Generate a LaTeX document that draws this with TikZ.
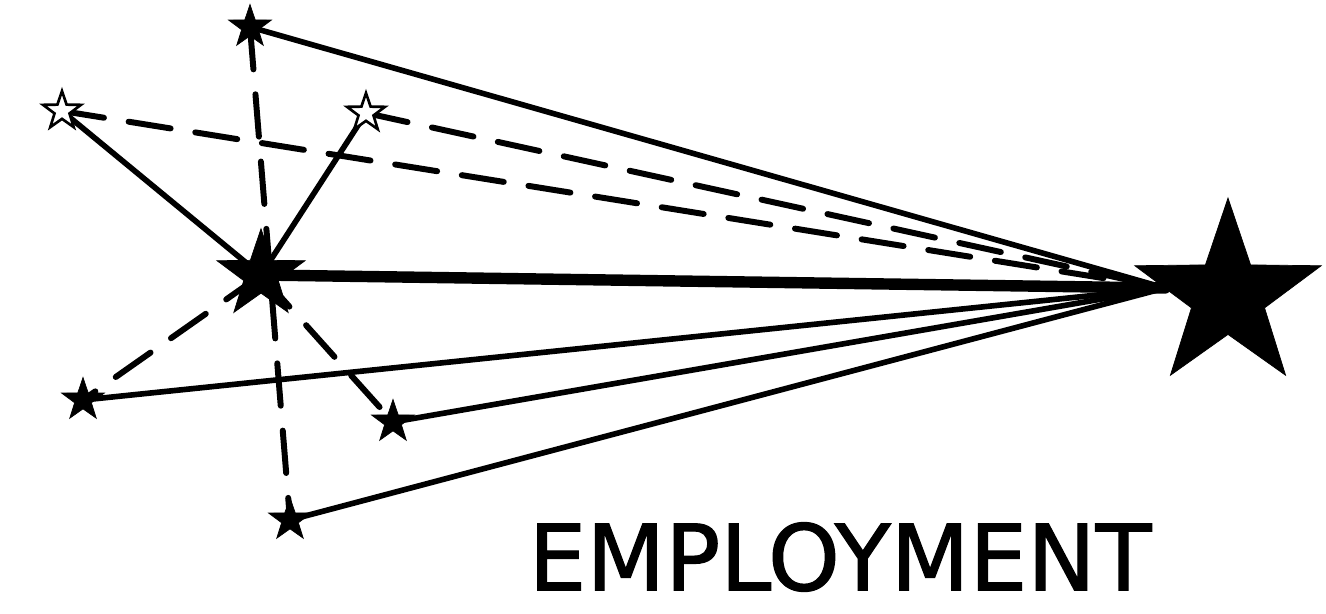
\documentclass[tikz,border=0pt]{standalone}
\usepackage{fontspec}
\setmainfont{DejaVu Sans}
\newfontfamily\titlefont[FakeBold=1.3]{DejaVu Sans}
\usetikzlibrary{shapes.geometric}
\pgfdeclarelayer{bg}
\pgfsetlayers{bg,main}
\begin{document}
\begin{tikzpicture}[x=0.02cm,y=-0.02cm,
 starbase/.style={star,star points=5,star point ratio=2.55,inner sep=0pt,draw=black,fill=black,line join=miter},
 bigstar/.style={starbase,minimum size=3.92cm},
 midstar/.style={starbase,minimum size=1.85cm},
 smallstar/.style={starbase,minimum size=0.9cm},
 hollowstar/.style={starbase,fill=white,line width=1.5pt,minimum size=0.8cm},
 solidlink/.style={line width=3.2pt,line cap=round},
 dashlink/.style={line width=3.4pt,line cap=round,dash pattern=on 0.85cm off 0.5cm},
 thicklink/.style={line width=6.5pt,line cap=round},
 titletext/.style={font=\titlefont\fontsize{52}{56}\selectfont,inner sep=0pt,xscale=1.0}]
\useasboundingbox (0,0) rectangle (1326,613);
\node[bigstar] (big) at (1228,296) {};
\coordinate (hub) at (1165,288);
\node[midstar] (ctr) at (261,275) {};
\node[smallstar] (top) at (250,27) {};
\node[hollowstar] (hl) at (62,111) {};
\node[hollowstar] (hr) at (366,113) {};
\node[smallstar] (bl) at (83,400) {};
\node[smallstar] (bm) at (393,422) {};
\node[smallstar] (bb) at (290,520) {};
\node[titletext] (title) at (840,557) {EMPLOYMENT};
\begin{pgfonlayer}{bg}
\draw[solidlink] (top.center) -- (hub);
\draw[dashlink] (top.center) -- (bb.center);
\draw[dashlink] (hl.center) -- (hub);
\draw[dashlink] (hr.center) -- (hub);
\draw[solidlink] (hl.center) -- (ctr.center);
\draw[solidlink] (hr.center) -- (ctr.center);
\draw[thicklink] (ctr.center) -- (hub);
\draw[dashlink] (ctr.center) -- (bl.center);
\draw[dashlink] (ctr.center) -- (bm.center);
\draw[solidlink] (bl.center) -- (hub);
\draw[solidlink] (bm.center) -- (hub);
\draw[solidlink] (bb.center) -- (hub);
\end{pgfonlayer}
\end{tikzpicture}
\end{document}
